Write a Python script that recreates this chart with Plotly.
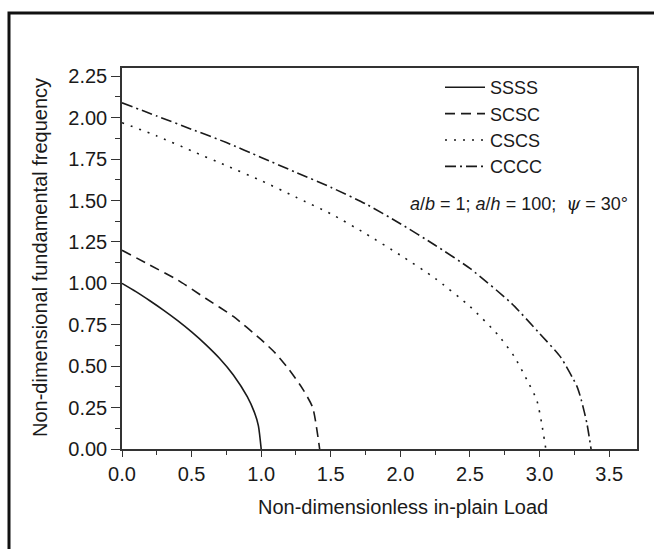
import plotly.graph_objects as go

# In-plane load vs. fundamental frequency for four edge conditions
load_ssss = [0.0, 0.1, 0.2, 0.3, 0.4, 0.5, 0.6, 0.7, 0.8, 0.9, 0.95, 0.98, 1.0]
freq_ssss = [1.00, 0.95, 0.895, 0.837, 0.775, 0.707, 0.632, 0.548, 0.447, 0.316, 0.224, 0.14, 0.0]

load_scsc = [0.0, 0.2, 0.4, 0.6, 0.8, 1.0, 1.1, 1.2, 1.3, 1.37, 1.42]
freq_scsc = [1.20, 1.11, 1.02, 0.91, 0.80, 0.66, 0.58, 0.48, 0.36, 0.25, 0.0]

load_cscs = [0.0, 0.25, 0.5, 0.75, 1.0, 1.25, 1.5, 1.75, 2.0, 2.25, 2.5, 2.7, 2.82, 2.91, 2.98, 3.015, 3.045]
freq_cscs = [1.97, 1.89, 1.80, 1.71, 1.62, 1.52, 1.42, 1.30, 1.17, 1.03, 0.86, 0.69, 0.556, 0.416, 0.295, 0.155, 0.0]

load_cccc = [0.0, 0.25, 0.5, 0.75, 1.0, 1.25, 1.5, 1.75, 2.0, 2.25, 2.5, 2.8, 3.0, 3.15, 3.27, 3.30, 3.34, 3.37]
freq_cccc = [2.09, 2.01, 1.93, 1.85, 1.76, 1.67, 1.58, 1.48, 1.36, 1.23, 1.09, 0.878, 0.697, 0.556, 0.375, 0.295, 0.155, 0.0]

series = [
    ("SSSS", load_ssss, freq_ssss, "solid"),
    ("SCSC", load_scsc, freq_scsc, "10px,6px"),
    ("CSCS", load_cscs, freq_cscs, "2px,7px"),
    ("CCCC", load_cccc, freq_cccc, "11px,4px,2px,4px"),
]

x_ticks = [0.0, 0.5, 1.0, 1.5, 2.0, 2.5, 3.0, 3.5]
y_ticks = [0.00, 0.25, 0.50, 0.75, 1.00, 1.25, 1.50, 1.75, 2.00, 2.25]

W, H = 654, 549
L, R, T, B = 122, 17, 68, 100
PW, PH = W - L - R, H - T - B


def px_to_paper(px, py):
    return (px - L) / PW, (H - B - py) / PH


fig = go.Figure()
for name, xs, ys, dash in series:
    fig.add_trace(go.Scatter(
        x=xs, y=ys, mode="lines", name=name,
        line=dict(color="#1a1a1a", width=1.6, dash=dash, shape="spline", smoothing=0.6),
    ))

FONT = "Liberation Sans, Arial, sans-serif"
axis_common = dict(
    showgrid=False, zeroline=False, showline=True, linecolor="#333333", linewidth=1.5,
    mirror=True, ticks="outside", tickcolor="#333333", tickwidth=1.3,
    tickfont=dict(family=FONT, size=20, color="#1a1a1a"),
)

fig.update_xaxes(
    range=[0, 3.7], tickvals=x_ticks, ticktext=[f"{v:.1f}" for v in x_ticks], ticklen=6,
    minor=dict(dtick=0.25, tick0=0, ticks="outside", ticklen=4, tickcolor="#333333", tickwidth=1.2),
    **axis_common,
)
fig.update_yaxes(
    range=[0, 2.3], tickvals=y_ticks, ticktext=[f"{v:.2f}" for v in y_ticks], ticklen=9,
    minor=dict(dtick=0.125, tick0=0, ticks="outside", ticklen=5, tickcolor="#333333", tickwidth=1.2),
    **axis_common,
)

# Outer frame around the whole figure
fx0, fy0 = px_to_paper(9, 13)
fx1, fy1 = px_to_paper(662, 560)
fig.add_shape(type="rect", xref="paper", yref="paper", x0=fx0, y0=fy1, x1=fx1, y1=fy0,
              line=dict(color="#111111", width=3), layer="above")

tx, ty = px_to_paper(403, 507)
fig.add_annotation(xref="paper", yref="paper", x=tx, y=ty, xanchor="center", yanchor="middle",
                   showarrow=False, text="Non-dimensionless in-plain Load",
                   font=dict(family=FONT, size=20, color="#1a1a1a"))

yx, yy = px_to_paper(40, 258)
fig.add_annotation(xref="paper", yref="paper", x=yx, y=yy, xanchor="center", yanchor="middle",
                   showarrow=False, textangle=-90,
                   text="Non-dimensional fundamental frequency",
                   font=dict(family=FONT, size=20, color="#1a1a1a"))

ax_, ay_ = px_to_paper(519, 203)
fig.add_annotation(xref="paper", yref="paper", x=ax_, y=ay_, xanchor="center", yanchor="middle",
                   showarrow=False,
                   text="<i>a</i>/<i>b</i> = 1; <i>a</i>/<i>h</i> = 100;  "
                        "<span style='font-family:DejaVu Serif'><i>ψ</i></span> = 30°",
                   font=dict(family=FONT, size=18, color="#1a1a1a"))

lx, ly = px_to_paper(440, 69)
fig.update_layout(
    width=W, height=H, margin=dict(l=L, r=R, t=T, b=B),
    plot_bgcolor="white", paper_bgcolor="white",
    legend=dict(x=lx, y=ly, xanchor="left", yanchor="top", bgcolor="rgba(0,0,0,0)",
                font=dict(family=FONT, size=18, color="#1a1a1a"), tracegroupgap=0,
                itemwidth=40),
    showlegend=True,
)

fig.write_html("out.html")
